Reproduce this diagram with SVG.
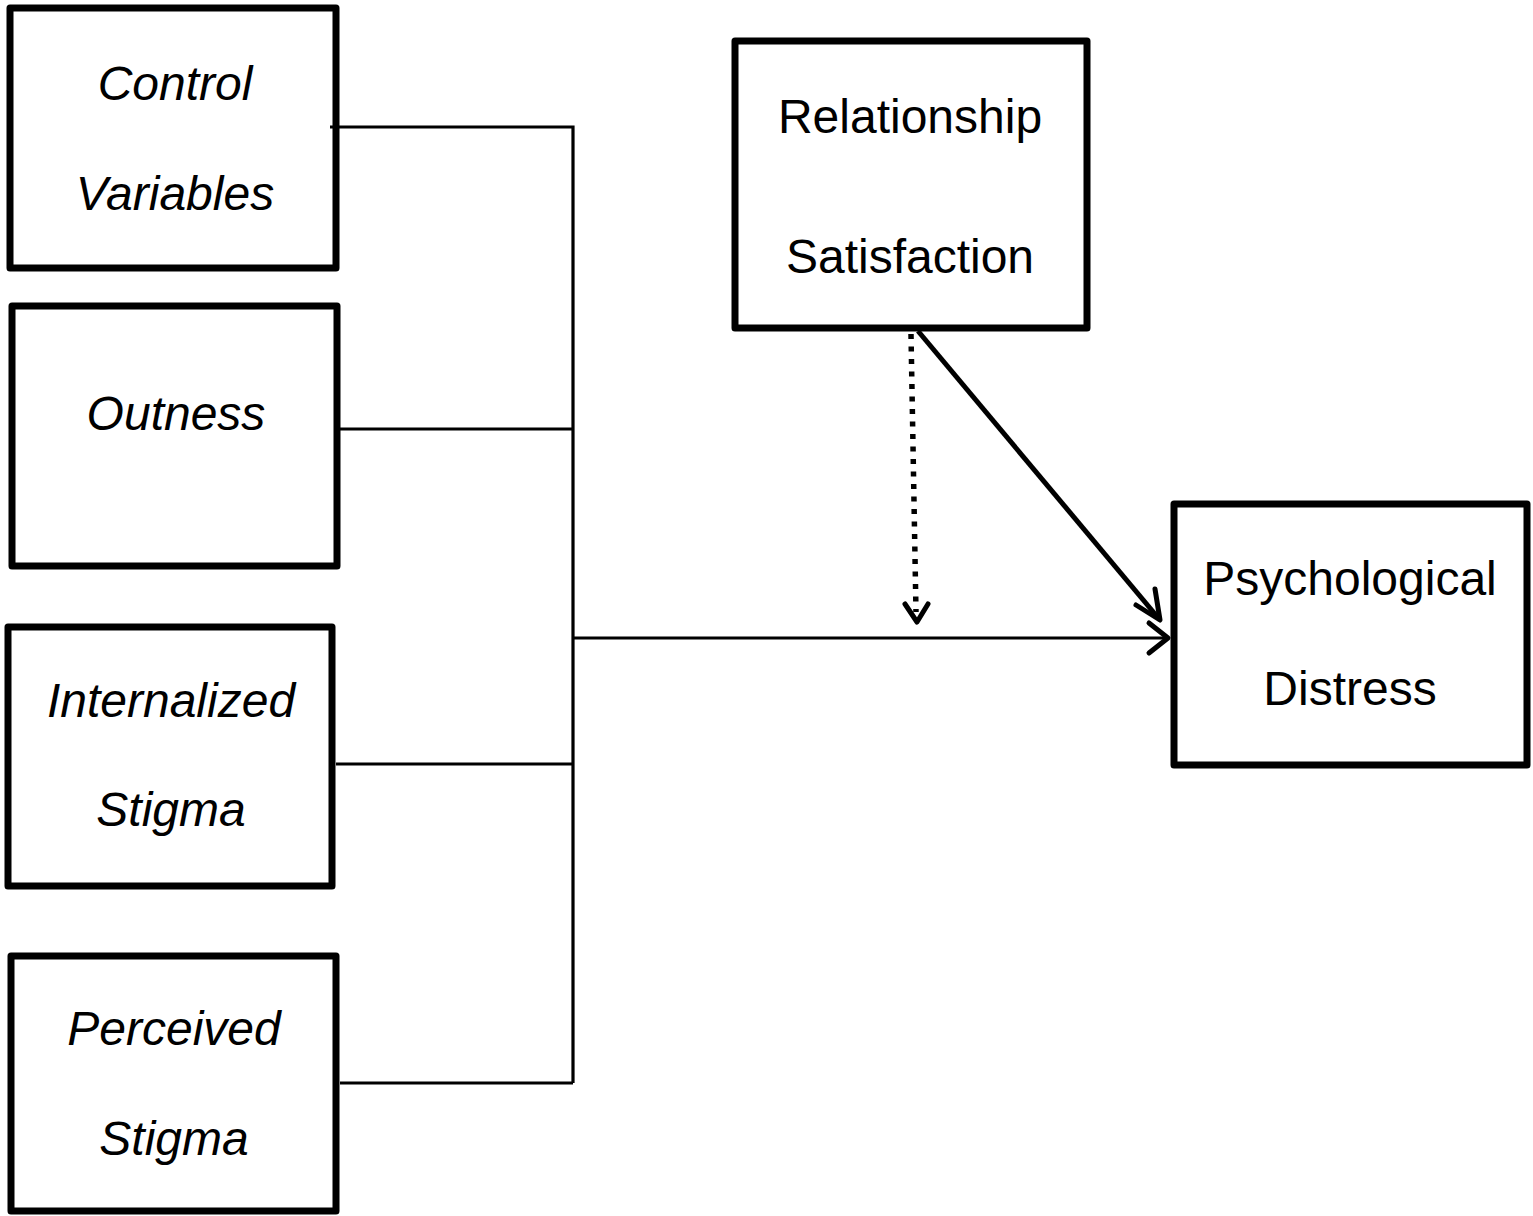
<svg xmlns="http://www.w3.org/2000/svg" width="1533" height="1216" viewBox="0 0 1533 1216">
<style>
.box{fill:#fff;stroke:#000;stroke-width:7;stroke-linejoin:round}
.t{font-family:"Liberation Sans",Arial,sans-serif;font-size:48px;fill:#000;text-anchor:middle}
.i{font-style:italic}
.ln{fill:none;stroke:#000;stroke-width:3.2}
.ar{fill:none;stroke:#000;stroke-width:5;stroke-linecap:round;stroke-linejoin:round}
</style>
<rect width="1533" height="1216" fill="#fff"/>
<g id="control">
<rect class="box" x="10" y="8" width="326" height="260"/>
<text class="t i" x="175" y="100">Control</text>
<text class="t i" x="175" y="210">Variables</text>
</g>
<g id="outness">
<rect class="box" x="12" y="306" width="325" height="260"/>
<text class="t i" x="176" y="430">Outness</text>
</g>
<g id="internalized">
<rect class="box" x="8" y="627" width="324" height="259"/>
<text class="t i" x="171" y="717">Internalized</text>
<text class="t i" x="171" y="826">Stigma</text>
</g>
<g id="perceived">
<rect class="box" x="11" y="956" width="325" height="255"/>
<text class="t i" x="174" y="1045">Perceived</text>
<text class="t i" x="174" y="1155">Stigma</text>
</g>
<g id="relationship">
<rect class="box" x="735" y="41" width="352" height="287"/>
<text class="t" x="910" y="133">Relationship</text>
<text class="t" x="910" y="273">Satisfaction</text>
</g>
<g id="distress">
<rect class="box" x="1174" y="504" width="353" height="261"/>
<text class="t" x="1350" y="595">Psychological</text>
<text class="t" x="1350" y="705">Distress</text>
</g>
<g id="connectors">
<path class="ln" d="M330 127H573V1083M340 429H573M336 764H573M340 1083H573M573 638H1168"/>
<path class="ar" d="M1149 623L1168 638L1149 653"/>
<line x1="918" y1="331" x2="1160" y2="620" stroke="#000" stroke-width="5"/>
<path class="ar" d="M1136 605L1160 620L1155 589"/>
<line x1="911" y1="334" x2="916" y2="612" stroke="#000" stroke-width="5.5" stroke-dasharray="5 7.5"/>
<path class="ar" d="M905 604L917 622L928 604"/>
</g>
</svg>
